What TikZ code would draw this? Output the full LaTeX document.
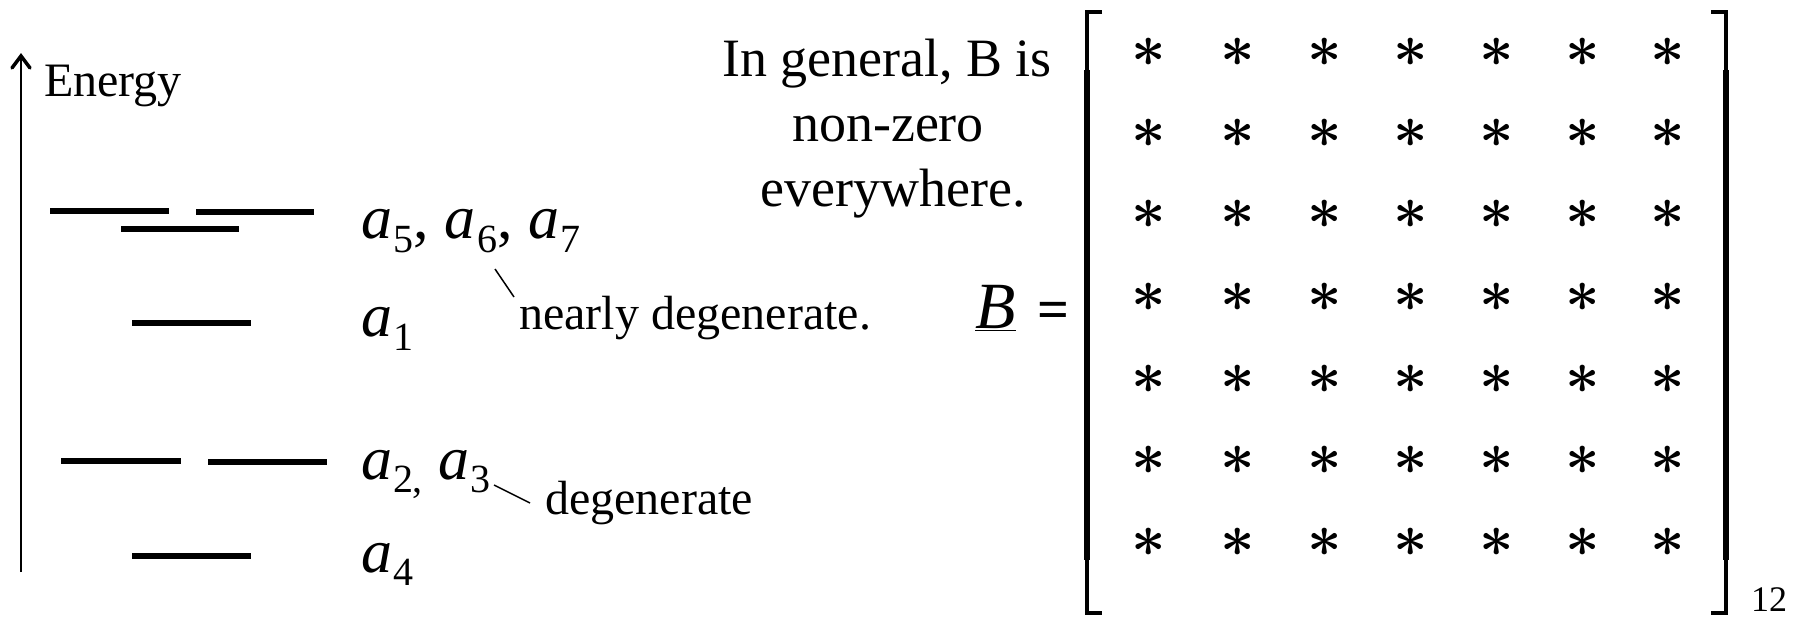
\documentclass[tikz,border=0pt]{standalone}
\usepackage{graphicx}
\usepackage{fontspec}
\setmainfont{Liberation Serif}
\newcommand\asub[1]{\textit{a}\kern1.5pt\raisebox{-0.22em}{\fontsize{40}{40}\selectfont #1}}
\begin{document}
\begin{tikzpicture}[x=1pt,y=-1pt,
  lvl/.style={line width=6pt},
  lbl/.style={inner sep=0pt, anchor=base west},
  ctr/.style={inner sep=0pt, anchor=base, font=\fontsize{54}{60}\selectfont},
  alab/.style={lbl, font=\fontsize{62}{62}\selectfont},
  lead/.style={line width=1.5pt},
  axisline/.style={line width=2.5pt},
  tipline/.style={line width=3.5pt, line join=miter, line cap=round},
  brkthin/.style={line width=4pt, line join=miter},
  brkthick/.style={line width=5.5pt},
  star/.style={inner sep=0pt}]
\useasboundingbox (0,0) rectangle (1804,617);
% axis
\coordinate (ax0) at (21,572);
\coordinate (ax1) at (21,56);
\coordinate (tipL) at (12,68);
\coordinate (tipR) at (30,68);
\draw[axisline] (ax0) -- (ax1);
\draw[tipline] (tipL) -- (ax1) -- (tipR);
\node[lbl, font=\fontsize{48}{48}\selectfont] (energy) at (44,97) {Energy};
% levels
\draw[lvl] (50,211) -- (169,211);
\draw[lvl] (196,212) -- (314,212);
\draw[lvl] (121,229) -- (239,229);
\draw[lvl] (132,323) -- (251,323);
\draw[lvl] (61,461) -- (181,461);
\draw[lvl] (208,462) -- (327,462);
\draw[lvl] (132,556) -- (251,556);
% labels
\node[alab] (a567) at (361,239) {\asub{5}, \asub{6}, \asub{7}};
\node[alab] (a1) at (361,337) {\asub{1}};
\node[alab] (a23) at (361,479) {\asub{2\kern-1pt,} \asub{3}};
\node[alab] (a4) at (361,572) {\asub{4}};
\node[lbl, font=\fontsize{48}{60}\selectfont] (nd) at (519,330) {nearly degenerate.};
\node[lbl, font=\fontsize{48}{60}\selectfont] (dg) at (545,514) {degenerate};
\coordinate (l1a) at (495,269); \coordinate (l1b) at (514,297);
\coordinate (l2a) at (494,485); \coordinate (l2b) at (530,503);
\draw[lead] (l1a) -- (l1b);
\draw[lead] (l2a) -- (l2b);
% general text
\node[ctr] (g1) at (887,77) {In general, B is};
\node[ctr] (g2) at (888,142) {non-zero};
\node[ctr] (g3) at (893,207) {everywhere.};
% B =
\node[lbl, font=\fontsize{66}{66}\selectfont] (B) at (975,329) {\underline{\textit{B}}};
\node[lbl, font=\fontsize{56}{56}\selectfont\bfseries] (eq) at (1037,329) {=};
% brackets
\draw[brkthin] (1102,12) -- (1087,12) -- (1087,72);
\draw[brkthick] (1087,70) -- (1087,560);
\draw[brkthin] (1087,558) -- (1087,613) -- (1102,613);
\draw[brkthin] (1711,12) -- (1726,12) -- (1726,72);
\draw[brkthick] (1726,70) -- (1726,560);
\draw[brkthin] (1726,558) -- (1726,613) -- (1711,613);
\node[lbl, font=\fontsize{36}{36}\selectfont] (sub12) at (1751,611) {12};
% asterisks
\foreach \i/\y in {1/52,2/133,3/214,4/297,5/379,6/460,7/542}{
  \foreach \j/\x in {1/1149,2/1238,3/1325,4/1411,5/1497,6/1583,7/1668}{
    \node[star] (s-\i-\j) at (\x,\y) {\scalebox{6}{\boldmath$\ast$}};
  }
}
\end{tikzpicture}
\end{document}
